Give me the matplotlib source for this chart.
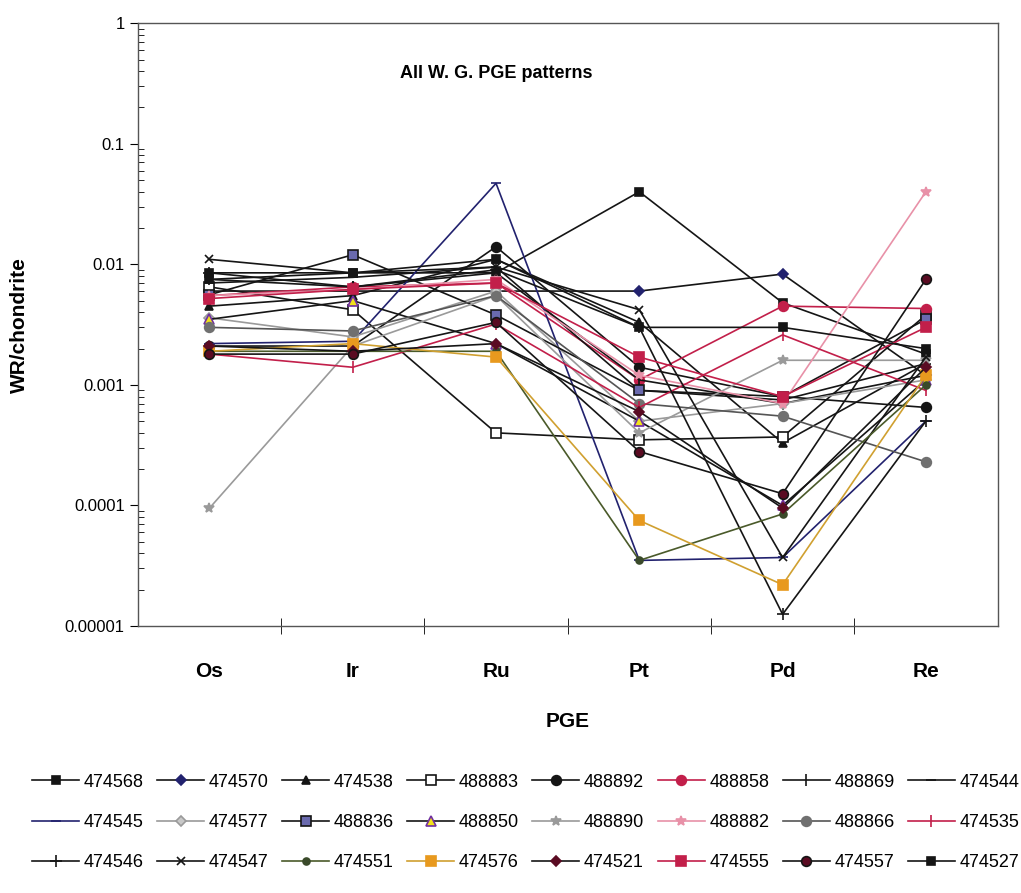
import numpy as np
import matplotlib
matplotlib.use("Agg")
import matplotlib.pyplot as plt
from matplotlib.ticker import FixedLocator, NullFormatter, LogLocator

plt.rcParams['font.family'] = ['Liberation Sans Narrow', 'Liberation Sans', 'DejaVu Sans']

elements = ['Os', 'Ir', 'Ru', 'Pt', 'Pd', 'Re']

# WR / chondrite values per sample (Os, Ir, Ru, Pt, Pd, Re)
s474568 = [0.0085, 0.0085, 0.0085, 0.04, 0.0048, 0.0018]
s474570 = [0.006, 0.006, 0.006, 0.006, 0.0083, 0.0012]
s474538 = [0.0045, 0.0055, 0.011, 0.0033, 0.00033, 0.0015]
s488883 = [0.0065, 0.0042, 0.0004, 0.00035, 0.00037, 0.0038]
s488892 = [0.0021, 0.0021, 0.014, 0.0014, 0.0008, 0.00065]
s488858 = [0.0055, 0.0065, 0.007, 0.0011, 0.0045, 0.0043]
s488869 = [0.0075, 0.0065, 0.0085, 0.0011, 0.0007, 0.0012]
s474544 = [0.007, 0.0078, 0.0095, 0.0009, 0.00075, 0.0015]
s474545 = [0.0022, 0.0023, 0.047, 0.000035, 0.000037, 0.0005]
s474577 = [0.0036, 0.0025, 0.006, 0.0005, 0.0007, 0.0011]
s488836 = [0.0056, 0.012, 0.0038, 0.0009, 0.0008, 0.0035]
s488850 = [0.0035, 0.005, 0.0022, 0.0005, 0.0001, 0.0011]
s488890 = [0.000095, 0.0021, 0.0055, 0.0004, 0.0016, 0.0016]
s488882 = [0.0055, 0.0062, 0.0075, 0.0012, 0.0007, 0.04]
s488866 = [0.003, 0.0028, 0.0055, 0.0007, 0.00055, 0.00023]
s474535 = [0.0018, 0.0014, 0.0032, 0.00065, 0.0026, 0.0009]
s474546 = [0.0085, 0.0065, 0.009, 0.003, 0.0000125, 0.0005]
s474547 = [0.011, 0.0085, 0.0095, 0.0042, 0.000037, 0.0017]
s474551 = [0.0019, 0.0019, 0.0019, 0.000035, 0.000085, 0.001]
s474576 = [0.0019, 0.0022, 0.0017, 0.000075, 0.000022, 0.0012]
s474521 = [0.0021, 0.0019, 0.0022, 0.0006, 0.000095, 0.0014]
s474555 = [0.0052, 0.0062, 0.007, 0.0017, 0.0008, 0.003]
s474557 = [0.0018, 0.0018, 0.0033, 0.00028, 0.000125, 0.0075]
s474527 = [0.0075, 0.0085, 0.011, 0.003, 0.003, 0.002]

k = '#151515'
navy = '#22226e'
red = '#c21f4a'
pink = '#e891a8'
grey = '#9a9a9a'
maroon = '#5a0b22'

# (label, values, line colour, marker, face, edge, size)
series = [
    ('474568', s474568, k, 's', k, k, 6),
    ('474570', s474570, k, 'D', navy, navy, 5),
    ('474538', s474538, k, '^', k, k, 6),
    ('488883', s488883, k, 's', 'white', k, 7),
    ('488892', s488892, k, 'o', k, k, 7),
    ('488858', s488858, red, 'o', red, red, 7),
    ('488869', s488869, k, '|', k, k, 8),
    ('474544', s474544, k, '_', k, k, 7),
    ('474545', s474545, navy, '_', navy, navy, 7),
    ('474577', s474577, grey, 'D', '#c8c8c8', grey, 5),
    ('488836', s488836, k, 's', '#6a6aae', k, 7),
    ('488850', s488850, k, '^', '#f2e21a', '#7030a0', 7),
    ('488890', s488890, grey, '*', grey, grey, 7),
    ('488882', s488882, pink, '*', pink, pink, 7),
    ('488866', s488866, '#555555', 'o', '#707070', '#707070', 7),
    ('474535', s474535, red, '|', red, red, 8),
    ('474546', s474546, k, '+', k, k, 8),
    ('474547', s474547, k, 'x', k, k, 6),
    ('474551', s474551, '#4a5a2a', 'o', '#3a4a2a', '#3a4a2a', 5),
    ('474576', s474576, '#d0a030', 's', '#e8991e', '#e8991e', 7),
    ('474521', s474521, k, 'D', maroon, maroon, 5),
    ('474555', s474555, red, 's', red, red, 7),
    ('474557', s474557, k, 'o', maroon, k, 7),
    ('474527', s474527, k, 's', k, k, 6),
]

fig = plt.figure(figsize=(10.21, 8.93), dpi=100)
ax = fig.add_axes([0.135, 0.299, 0.842, 0.675])

x = np.arange(len(elements))
handles = []
for lab, vals, lc, m, fc, ec, ms in series:
    h, = ax.plot(x, vals, color=lc, lw=1.2, marker=m, markerfacecolor=fc,
                 markeredgecolor=ec, markersize=ms, markeredgewidth=1.2, label=lab)
    handles.append(h)

ax.set_yscale('log')
ax.set_ylim(1e-5, 1)
ax.set_xlim(-0.5, 5.5)
ax.yaxis.set_major_locator(FixedLocator([1e-5, 1e-4, 1e-3, 1e-2, 1e-1, 1]))
ax.set_yticklabels(['0.00001', '0.0001', '0.001', '0.01', '0.1', '1'])
ax.yaxis.set_minor_locator(LogLocator(base=10, subs=np.arange(2, 10)))
ax.yaxis.set_minor_formatter(NullFormatter())
ax.tick_params(axis='y', which='major', direction='out', length=6, labelsize=12)
ax.tick_params(axis='y', which='minor', direction='in', length=4)

ax.set_xticks(x)
ax.set_xticklabels(elements, fontsize=15, fontweight='bold')
ax.set_xticks(np.arange(0.5, 5.5, 1), minor=True)
ax.tick_params(axis='x', which='major', length=0, pad=26)
ax.tick_params(axis='x', which='minor', direction='inout', length=12)

for sp in ax.spines.values():
    sp.set_color('#555555')
    sp.set_linewidth(1.0)

ax.set_xlabel('PGE', fontsize=15, fontweight='bold', labelpad=22)
ax.set_ylabel('WR/chondrite', fontsize=15, fontweight='bold', labelpad=26)
ax.text(2, 0.917, 'All W. G. PGE patterns', transform=ax.get_xaxis_transform(),
        ha='center', va='center', fontsize=13, fontweight='bold')

# legend reads row by row, matplotlib fills column by column
ncol = 8
nrow = 3
order = [r * ncol + c for c in range(ncol) for r in range(nrow)]
fig.legend([handles[i] for i in order], [series[i][0] for i in order],
           loc='upper center', bbox_to_anchor=(0.515, 0.152), ncol=ncol,
           frameon=False, fontsize=13, handlelength=2.6, handletextpad=0.25,
           columnspacing=0.75, labelspacing=1.3)

fig.savefig('out.png', dpi=100, facecolor='white')
